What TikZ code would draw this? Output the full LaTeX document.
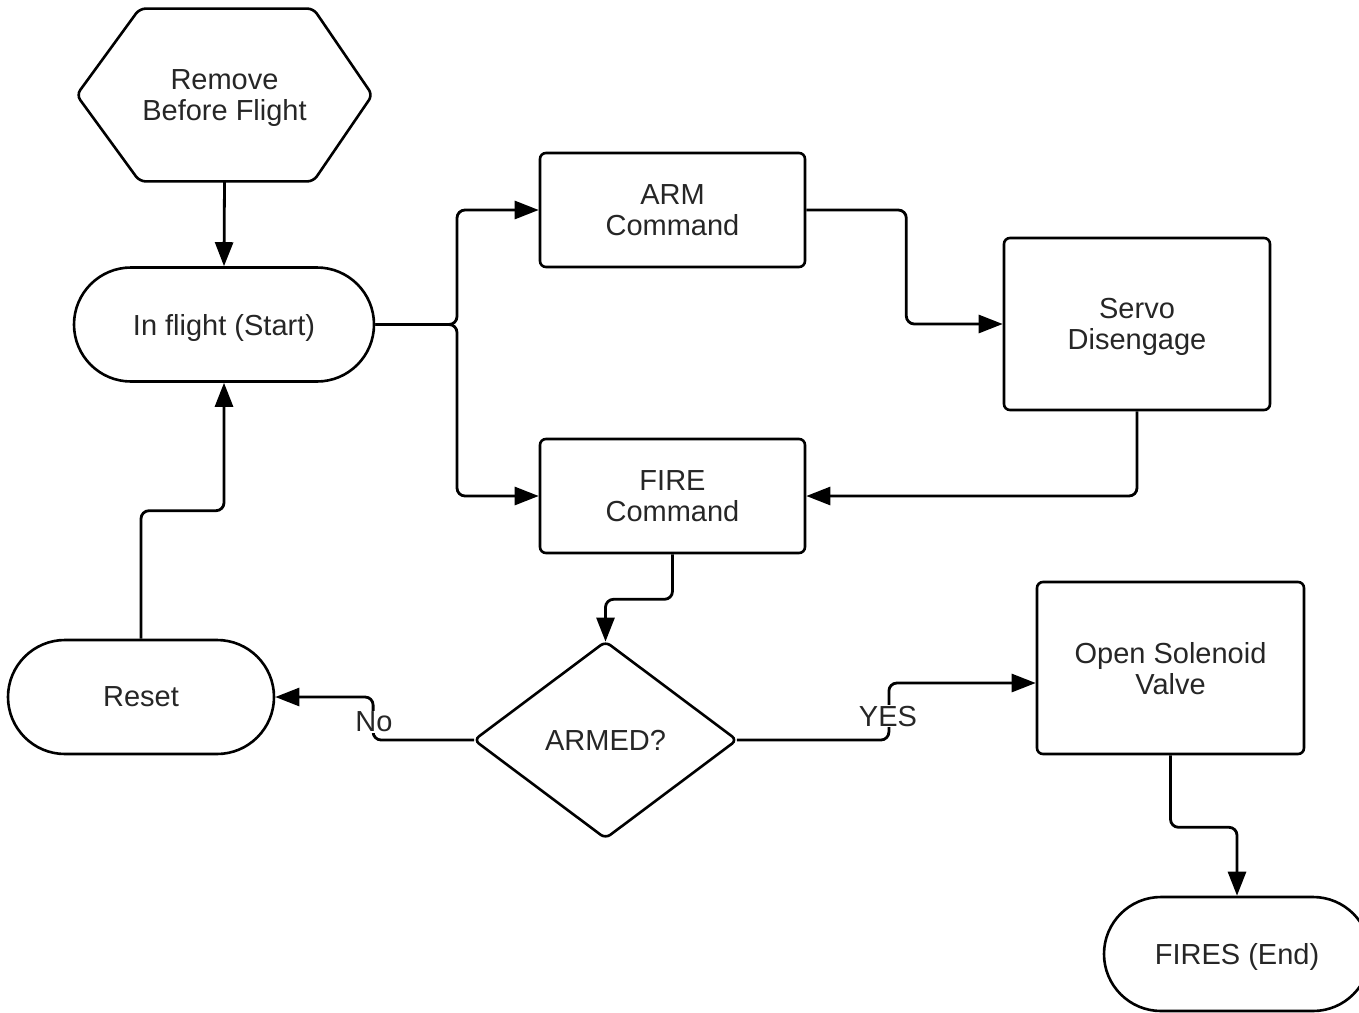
\documentclass[tikz,border=0pt]{standalone}
\usepackage{fontspec}
\setmainfont{Liberation Sans}
\usetikzlibrary{arrows.meta,calc}
\begin{document}
\begin{tikzpicture}[x=0.5pt,y=-0.5pt,
  every node/.style={font=\fontsize{14.5}{15.5}\selectfont, text=black!85, align=center, inner sep=0pt, text depth=0pt},
  box/.style={draw, line width=1.3pt, rounded corners=3pt, minimum width=132.5pt, minimum height=57pt},
  tallbox/.style={box, minimum width=133pt, minimum height=86pt},
  term/.style={draw, line width=1.3pt, rounded corners=28.5pt, minimum height=57pt},
  shapeline/.style={draw, line width=1.3pt, rounded corners=3pt},
  flow/.style={line width=1.4pt, rounded corners=4pt, -{Triangle[length=12pt,width=9pt]}},
  lbl/.style={fill=white, inner sep=0.5pt}
]
\useasboundingbox (0,0) rectangle (1359,1012);
\clip (0,0) rectangle (1359,1012);

% hexagon start marker
\node[minimum width=147.5pt, minimum height=86pt] (hex) at (224.5,95) {Remove\\Before Flight};
\draw[shapeline] (hex.west) -- ($(hex.north west)+(63,0)$) -- ($(hex.north east)+(-59,0)$)
  -- (hex.east) -- ($(hex.south east)+(-59,0)$) -- ($(hex.south west)+(63,0)$) -- cycle;

% terminals
\node[term, minimum width=150pt] (start) at (224,324.5) {In flight (Start)};
\node[term, minimum width=133pt] (reset) at (141,697) {Reset};
\node[term, minimum width=133pt] (fires) at (1237,954) {FIRES (End)};

% process boxes
\node[box] (arm) at (672.5,210) {ARM\\Command};
\node[box] (fire) at (672.5,496) {FIRE\\Command};
\node[tallbox] (servo) at (1137,324) {Servo\\Disengage};
\node[tallbox, minimum width=133.5pt] (valve) at (1170.5,668) {Open Solenoid\\Valve};

% decision
\node[minimum width=131pt, minimum height=98pt] (armed) at (605.5,740) {ARMED?};
\draw[shapeline] (armed.west) -- (armed.north) -- (armed.east) -- (armed.south) -- cycle;

% connectors
\coordinate (split) at (457,324.5);
\draw[flow] (hex.south) -- (start.north);
\draw[flow] (start.east) -- (split) |- (arm.west);
\draw[flow] (start.east) -- (split) |- (fire.west);
\draw[flow] (arm.east) -- ++(100,0) |- (servo.west);
\draw[flow] (servo.south) |- (fire.east);
\draw[flow] (fire.south) -- ++(0,45) -| (armed.north);
\draw[flow] (armed.west) -- ++(-101,0) |- (reset.east);
\draw[flow] (armed.east) -- ++(152,0) |- ($(valve.west)+(0,15)$);
\draw[flow] (reset.north) -- ++(0,-128) -| (start.south);
\draw[flow] (valve.south) -- ++(0,72) -| (fires.north);

% branch labels
\node[lbl] (no) at (374,722) {No};
\node[lbl] (yes) at (888,716) {YES};
\end{tikzpicture}
\end{document}
